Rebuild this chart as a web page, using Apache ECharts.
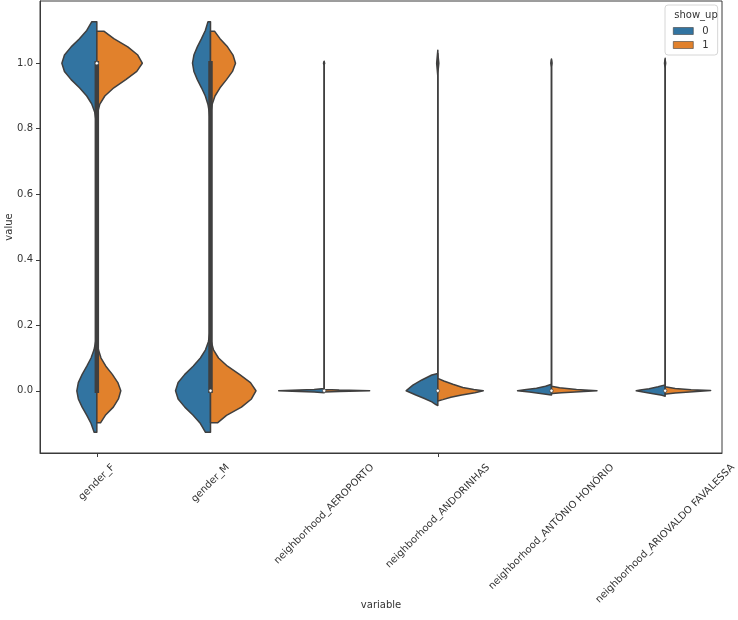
<!DOCTYPE html>
<html>
<head>
<meta charset="utf-8">
<script src="https://cdn.jsdelivr.net/npm/echarts@6/dist/echarts.min.js"></script>
<style>html,body{margin:0;padding:0;background:#fff}#c{width:738px;height:620px}</style>
</head>
<body>
<div id="c"></div>
<script>
// ---------------- data ----------------
const categories = ['gender_F', 'gender_M', 'neighborhood_AEROPORTO', 'neighborhood_ANDORINHAS', 'neighborhood_ANTÔNIO HONÓRIO', 'neighborhood_ARIOVALDO FAVALESSA'];
const hues = ['0', '1'];
const yTicks = [0.0, 0.2, 0.4, 0.6, 0.8, 1.0];

// kernel density profiles: [value, density as % of the largest density]
const genderF_0 = [[-0.127,5.9],[-0.1,12.7],[-0.075,22],[-0.05,32.3],[-0.025,40.7],[0,44],[0.025,40.7],[0.05,32.3],[0.075,22],[0.1,12.7],[0.125,6.2],[0.15,2.6],[0.175,0.9],[0.2,0],[0.8,0],[0.825,1.7],[0.85,4.6],[0.875,11],[0.9,22.2],[0.925,38.2],[0.95,56.5],[0.975,71.2],[1.0,76.9],[1.025,71.2],[1.05,56.5],[1.075,38.2],[1.1,22.2],[1.127,11]];
const genderF_1 = [[-0.098,8.1],[-0.075,18.7],[-0.05,36.3],[-0.025,47.5],[0,52.7],[0.025,46.2],[0.05,34.1],[0.075,19.8],[0.1,9.2],[0.125,3.5],[0.15,0.9],[0.175,0],[0.825,0],[0.85,1.8],[0.875,6.6],[0.9,17.6],[0.925,37.4],[0.95,63.7],[0.975,87.9],[1.0,100],[1.025,90.1],[1.05,68.1],[1.075,37.4],[1.098,15.4]];
const genderM_0 = [[-0.127,11],[-0.1,22.2],[-0.075,38.2],[-0.05,56.5],[-0.025,71.2],[0,76.9],[0.025,71.2],[0.05,56.5],[0.075,38.2],[0.1,22.2],[0.125,11],[0.15,4.6],[0.175,1.7],[0.2,0],[0.8,0],[0.825,0.7],[0.85,2.6],[0.875,5.7],[0.9,11.4],[0.925,19.8],[0.95,29],[0.975,36.5],[1.0,39.6],[1.025,36.5],[1.05,29],[1.075,19.8],[1.1,11.4],[1.127,5.5]];
const genderM_1 = [[-0.098,15.4],[-0.075,35.2],[-0.05,68.1],[-0.025,90.1],[0,100],[0.025,87.9],[0.05,63.7],[0.075,37.4],[0.1,17.6],[0.125,6.6],[0.15,1.8],[0.175,0],[0.825,0],[0.85,0.9],[0.875,3.7],[0.9,9.9],[0.925,20.9],[0.95,35.2],[0.975,48.4],[1.0,55],[1.025,49.5],[1.05,37.4],[1.075,20.9],[1.098,8.8]];
const aeroporto_0 = [[-0.006,0],[-0.004,22],[-0.002,55],[0,100],[0.002,55],[0.004,22],[0.007,0],[0.994,0],[1.0,1.5],[1.006,0]];
const aeroporto_1 = [[-0.004,0],[-0.002,33],[0,100],[0.002,33],[0.004,0],[0.996,0],[1.0,1.2],[1.004,0]];
const andorinhas_0 = [[-0.045,0],[-0.042,4.4],[-0.034,13.2],[-0.023,30.8],[-0.013,48.4],[0,69.7],[0.002,68.1],[0.017,54.9],[0.033,35.2],[0.048,13.2],[0.053,0],[0.96,0],[0.98,1.3],[1.0,2.6],[1.02,1.3],[1.04,0]];
const andorinhas_1 = [[-0.031,0],[-0.027,11],[-0.02,28.6],[-0.013,52.7],[-0.006,81.3],[0,100],[0.004,79.1],[0.01,54.9],[0.02,33],[0.03,13.2],[0.038,0],[0.97,0],[0.985,1.1],[1.0,2.2],[1.015,1.1],[1.03,0]];
const antonio_0 = [[-0.013,0],[-0.012,4.4],[-0.008,24.2],[-0.004,48.4],[0,74.7],[0.003,59.3],[0.008,33],[0.014,13.2],[0.02,0],[0.987,0],[1.0,1.5],[1.013,0]];
const antonio_1 = [[-0.009,0],[-0.008,2.2],[-0.006,22],[-0.003,61.5],[0,100],[0.004,55],[0.009,17.6],[0.014,0],[0.99,0],[1.0,1.2],[1.01,0]];
const ariovaldo_0 = [[-0.017,0],[-0.014,6.6],[-0.009,26.4],[-0.004,48.4],[0,63.7],[0.002,55],[0.006,35.2],[0.012,15.4],[0.018,0],[0.985,0],[1.0,1.5],[1.015,0]];
const ariovaldo_1 = [[-0.011,0],[-0.01,2.2],[-0.007,22],[-0.003,61.5],[0.001,100],[0.003,57],[0.007,22],[0.012,0],[0.99,0],[1.0,1.2],[1.01,0]];

const profiles0 = [genderF_0, genderM_0, aeroporto_0, andorinhas_0, antonio_0, ariovaldo_0];
const profiles1 = [genderF_1, genderM_1, aeroporto_1, andorinhas_1, antonio_1, ariovaldo_1];

// inner box statistics (combined hues)
const boxQ1 = [0, 0, 0, 0, 0, 0];
const boxMedian = [1, 0, 0, 0, 0, 0];
const boxQ3 = [1, 1, 0, 0, 0, 0];
const whiskerLow = [0, 0, 0, 0, 0, 0];
const whiskerHigh = [1, 1, 0, 0, 0, 0];

// ---------------- chart ----------------
const COLORS = ['#3274a1', '#e1812c'];
const EDGE = '#3f3f3f';
const FONT = '"DejaVu Sans", sans-serif';
const Y_MIN = -0.19, Y_MAX = 1.19;

const chart = echarts.init(document.getElementById('c'), null, {renderer: 'canvas'});

function violinRender(side, profiles, color) {
  return function (params, api) {
    const i = api.value(0);
    const prof = profiles[i];
    const band = api.size([1, 0])[0];
    const maxHalf = band * 0.4;
    const cx = api.coord([i, 0])[0];
    const pts = [];
    pts.push([cx, api.coord([i, prof[0][0]])[1]]);
    prof.forEach(function (p) {
      const y = api.coord([i, p[0]])[1];
      pts.push([cx + side * p[1] / 100 * maxHalf, y]);
    });
    pts.push([cx, api.coord([i, prof[prof.length - 1][0]])[1]]);
    return {
      type: 'polygon',
      shape: {points: pts},
      style: {fill: color, stroke: EDGE, lineWidth: 1.5, lineJoin: 'round'}
    };
  };
}

function boxRender(params, api) {
  const i = api.value(0);
  const cx = api.coord([i, 0])[0];
  const yw0 = api.coord([i, whiskerLow[i]])[1];
  const yw1 = api.coord([i, whiskerHigh[i]])[1];
  const yq1 = api.coord([i, boxQ1[i]])[1];
  const yq3 = api.coord([i, boxQ3[i]])[1];
  const ym = api.coord([i, boxMedian[i]])[1];
  return {
    type: 'group',
    children: [
      {type: 'line', shape: {x1: cx, y1: yw0, x2: cx, y2: yw1}, style: {stroke: EDGE, lineWidth: 1.5}},
      {type: 'line', shape: {x1: cx, y1: yq1, x2: cx, y2: yq3}, style: {stroke: EDGE, lineWidth: 4.5, lineCap: 'square'}},
      {type: 'circle', shape: {cx: cx, cy: ym, r: 1.7}, style: {fill: '#ffffff', stroke: EDGE, lineWidth: 0.7}}
    ]
  };
}

const measureCtx = document.createElement('canvas').getContext('2d');
measureCtx.font = '10px ' + FONT;

function labelRender(params, api) {
  const i = api.value(0);
  const text = categories[i];
  const cx = api.coord([i, 0])[0];
  const yb = api.coord([i, Y_MIN])[1];
  const L = measureCtx.measureText(text).width;
  const h = 11;
  const top = yb + 9;
  const cy = top + (L + h) * Math.SQRT1_2 / 2;
  return {
    type: 'text',
    x: cx,
    y: cy,
    rotation: Math.PI / 4,
    style: {
      text: text,
      fill: '#333',
      font: '10px ' + FONT,
      align: 'center',
      verticalAlign: 'middle'
    }
  };
}

const catData = categories.map(function (c, i) { return [i, 0]; });

const option = {
  animation: false,
  backgroundColor: '#ffffff',
  textStyle: {fontFamily: FONT},
  grid: {left: 40, top: 1, width: 682, height: 452, show: true, borderColor: '#3a3a3a', borderWidth: 1, containLabel: false, outerBoundsMode: 'none'},
  title: {
    text: 'show_up', left: 691, top: 5, textAlign: 'center',
    textStyle: {fontSize: 10, fontWeight: 'normal', color: '#333', fontFamily: FONT}
  },
  legend: {
    data: hues,
    orient: 'vertical',
    left: 665, top: 5,
    padding: [21, 9, 5, 8],
    itemWidth: 20, itemHeight: 7, itemGap: 4,
    icon: 'rect',
    selectedMode: false,
    backgroundColor: '#ffffff',
    borderColor: '#d6d6d6', borderWidth: 1, borderRadius: 3,
    itemStyle: {borderColor: EDGE, borderWidth: 0.6},
    textStyle: {fontSize: 10, color: '#333', fontFamily: FONT, padding: [0, 0, 0, 4]}
  },
  xAxis: {
    type: 'category',
    data: categories,
    boundaryGap: true,
    name: 'variable',
    nameLocation: 'middle',
    nameGap: 147,
    nameMoveOverlap: false,
    nameTextStyle: {fontSize: 10, color: '#333', fontFamily: FONT},
    axisLine: {show: true, onZero: false, lineStyle: {color: '#3a3a3a', width: 1}},
    axisTick: {show: true, alignWithLabel: true, length: 4, lineStyle: {color: '#3a3a3a'}},
    axisLabel: {show: false},
    splitLine: {show: false}
  },
  yAxis: {
    type: 'value',
    min: Y_MIN, max: Y_MAX,
    name: 'value',
    nameLocation: 'middle',
    nameGap: 26,
    nameMoveOverlap: false,
    nameTextStyle: {fontSize: 10, color: '#333', fontFamily: FONT},
    axisLine: {show: true, onZero: false, lineStyle: {color: '#3a3a3a', width: 1}},
    axisTick: {show: true, length: 4, customValues: yTicks, lineStyle: {color: '#3a3a3a'}},
    axisLabel: {
      show: true, customValues: yTicks, margin: 7, fontSize: 10, color: '#333', fontFamily: FONT,
      formatter: function (v) { return Number(v).toFixed(1); }
    },
    splitLine: {show: false}
  },
  series: [
    {
      name: '0', type: 'custom', data: catData, encode: {x: 0, y: 1},
      itemStyle: {color: COLORS[0]}, z: 2, silent: true,
      renderItem: violinRender(-1, profiles0, COLORS[0])
    },
    {
      name: '1', type: 'custom', data: catData, encode: {x: 0, y: 1},
      itemStyle: {color: COLORS[1]}, z: 2, silent: true,
      renderItem: violinRender(1, profiles1, COLORS[1])
    },
    {
      name: 'box', type: 'custom', data: catData, encode: {x: 0, y: 1},
      z: 3, silent: true, renderItem: boxRender
    },
    {
      name: 'ticklabels', type: 'custom', data: catData, encode: {x: 0, y: 1},
      z: 3, silent: true, clip: false, renderItem: labelRender
    }
  ]
};
chart.setOption(option);
</script>
</body>
</html>
